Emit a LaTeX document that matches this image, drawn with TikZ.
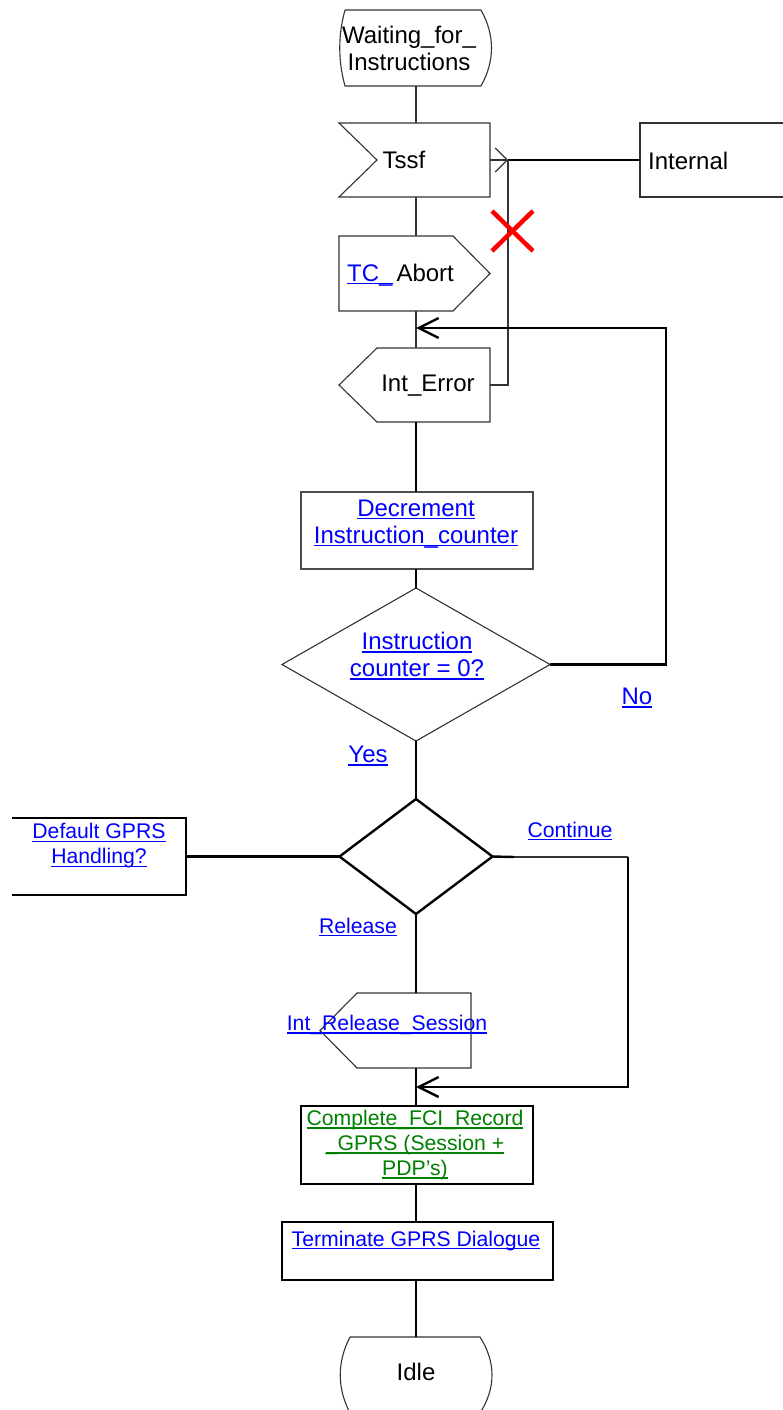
\documentclass[tikz,border=0pt]{standalone}
\usepackage{fontspec}
\setmainfont{Liberation Sans}
\usetikzlibrary{calc,arrows.meta}
\definecolor{linkblue}{RGB}{0,0,255}
\definecolor{linkgreen}{RGB}{0,128,0}
\definecolor{crossred}{RGB}{255,0,0}
\newcommand{\bigtxt}{\fontsize{24}{27}\selectfont}
\newcommand{\smalltxt}{\fontsize{21.2}{25}\selectfont}
% underline at a fixed depth below the baseline
\newcommand{\ulfix}[1]{\leavevmode\setbox0\hbox{#1}\rlap{\rule[-3pt]{\wd0}{1.4pt}}\box0}
\newcommand{\lnk}[1]{\textcolor{linkblue}{\ulfix{#1}}}
\newcommand{\glnk}[1]{\textcolor{linkgreen}{\ulfix{#1}}}

\begin{document}
\begin{tikzpicture}[x=1pt,y=-1pt,
  thinln/.style={line width=1.1pt, draw=black!80},
  thickln/.style={line width=2.4pt, draw=black},
  frame/.style={draw=none, inner sep=0pt, outer sep=0pt, rectangle},
  txt/.style={inner sep=0pt, align=center, font=\bigtxt},
  stxt/.style={inner sep=0pt, align=center, font=\smalltxt},
  bigbarb/.style={-{Straight Barb[length=20pt,width=20pt]}},
  smallbarb/.style={-{Straight Barb[length=12pt,width=24pt]}}]

\fill[white] (0,0) rectangle (783,1410);
\path[use as bounding box, clip] (0,0) rectangle (783,1410);

% main vertical flow axis
\coordinate (axis) at (416,0);

% ---------- shape frames ----------
\node[frame, minimum width=136pt, minimum height=76pt] (wait) at (413,48) {};
\node[frame, minimum width=151pt, minimum height=74pt] (tssf) at (414.5,160) {};
\node[frame, minimum width=144pt, minimum height=74pt] (internal) at (712,160) {};
\node[frame, minimum width=151pt, minimum height=75pt] (tcab) at (414.5,273.5) {};
\node[frame, minimum width=151pt, minimum height=74pt] (interr) at (414.5,385) {};
\node[frame, minimum width=232pt, minimum height=77pt] (dec) at (417,530.5) {};
\node[frame, minimum width=268pt, minimum height=153pt] (dia1) at (416,664.5) {};
\node[frame, minimum width=153pt, minimum height=115pt] (dia2) at (416,856.5) {};
\node[frame, minimum width=174pt, minimum height=77pt] (dflt) at (99,856.5) {};
\node[frame, minimum width=151pt, minimum height=75pt] (relsess) at (395.5,1030.5) {};
\node[frame, minimum width=232pt, minimum height=78pt] (complete) at (417,1145) {};
\node[frame, minimum width=271pt, minimum height=58pt] (term) at (417.5,1251) {};
\node[frame, minimum width=130pt, minimum height=76pt] (idle) at (415,1375) {};

% ---------- outlines ----------
% state: Waiting_for_Instructions
\draw[thinln] (wait.north west) -- (wait.north east)
  .. controls +(14,25) and +(14,-25) .. (wait.south east)
  -- (wait.south west)
  .. controls +(-7,-25) and +(-7,25) .. (wait.north west);
% input signal Tssf
\draw[thinln] (tssf.north west) -- (tssf.north east) -- (tssf.south east)
  -- (tssf.south west) -- ($(tssf.west)+(38,0)$) -- cycle;
% Internal process box (open on the right)
\draw[thinln] (internal.north east) -- (internal.north west)
  -- (internal.south west) -- (internal.south east);
% output signal TC_Abort
\draw[thinln] (tcab.north west) -- ($(tcab.north east)+(-37,0)$) -- (tcab.east)
  -- ($(tcab.south east)+(-37,0)$) -- (tcab.south west) -- cycle;
% input signal Int_Error
\draw[thinln] ($(interr.north west)+(38,0)$) -- (interr.north east)
  -- (interr.south east) -- ($(interr.south west)+(38,0)$) -- (interr.west) -- cycle;
% task Decrement
\draw[thinln, draw=black!70] (dec.north west) rectangle (dec.south east);
% decision Instruction counter
\draw[thinln] (dia1.north) -- (dia1.east) -- (dia1.south) -- (dia1.west) -- cycle;
% decision Continue / Release
\draw[thickln] (dia2.north) -- (dia2.east) -- (dia2.south) -- (dia2.west) -- cycle;
% Default GPRS box (open on the left)
\draw[thickln] (dflt.north west) -- (dflt.north east) -- (dflt.south east) -- (dflt.south west);
% signal Int_Release_Session
\draw[thinln] ($(relsess.north west)+(37,0)$) -- (relsess.north east)
  -- (relsess.south east) -- ($(relsess.south west)+(37,0)$) -- (relsess.west) -- cycle;
% tasks
\draw[thickln] (complete.north west) rectangle (complete.south east);
\draw[thickln] (term.north west) rectangle (term.south east);
% state: Idle
\draw[thinln] (idle.north west) -- (idle.north east)
  .. controls +(16,25) and +(16,-25) .. (idle.south east)
  -- (idle.south west)
  .. controls +(-13,-25) and +(-13,25) .. (idle.north west);

% ---------- texts ----------
\node[txt] (waittxt) at (409,48) {Waiting\_for\_\\Instructions};
\node[txt] (tssftxt) at (404,160) {Tssf};
\node[txt, anchor=west] (inttxt) at (648,161) {Internal};
\node[txt, anchor=west] (tcabtxt) at (347,275) {\lnk{TC\_}\,Abort};
\node[txt] (interrtxt) at (428,386) {Int\_Error};
\node[txt] (dectxt) at (416,524) {\lnk{Decrement}\\\lnk{Instruction\_counter}};
\node[txt] (dia1txt) at (417,656) {\lnk{Instruction}\\\lnk{counter = 0?}};
\node[txt] (notxt) at (637,698) {\lnk{No}};
\node[txt] (yestxt) at (368,756) {\lnk{Yes}};
\node[stxt] (dflttxt) at (99,846) {\lnk{Default GPRS}\\\lnk{Handling?}};
\node[stxt] (conttxt) at (570,831) {\lnk{Continue}};
\node[stxt] (reltxt) at (358,927) {\lnk{Release}};
\node[stxt] (relsesstxt) at (387,1025) {\lnk{Int\_Release\_Session}};
\node[stxt] (completetxt) at (415,1145) {\glnk{Complete\_FCI\_Record}\\\glnk{\_GPRS (Session +}\\\glnk{PDP’s)}};
\node[stxt] (termtxt) at (416,1241) {\lnk{Terminate GPRS Dialogue}};
\node[txt] (idletxt) at (416,1372) {Idle};

% ---------- connectors ----------
\coordinate (junc) at (508,160);
\coordinate (loopin) at (416,328);
\coordinate (loopc) at (666,328);
\coordinate (contA) at (514,857);
\coordinate (contB) at (628,857);
\coordinate (contin) at (416,1087);

\draw[thinln] (wait.south -| axis) -- (tssf.north -| axis);
\draw[thinln] (tssf.south -| axis) -- (tcab.north -| axis);
\draw[thinln] (tcab.south -| axis) -- (interr.north -| axis);
\draw[thinln, smallbarb] (tssf.east) -- (junc);
\draw[thickln] (internal.west) -- (junc);
\draw[thinln] (interr.east) -| (junc);
\draw[thickln] (interr.south -| axis) -- (dec.north -| axis);
\draw[thickln] (dec.south -| axis) -- (dia1.north);
\draw[thickln, bigbarb] (dia1.east) -| (loopc) -- (loopin);
\draw[thickln] (dia1.south) -- (dia2.north);
\draw[thickln] (dia2.west) -- (dflt.east);
\draw[thickln] (dia2.east) -- (contA);
\draw[thinln] (contA) -- (contB);
\draw[thickln, bigbarb] (contB) |- (contin);
\draw[thickln] (dia2.south) -- (relsess.north -| dia2.south);
\draw[thickln] (relsess.south -| axis) -- (complete.north -| axis);
\draw[thickln] (complete.south -| axis) -- (term.north -| axis);
\draw[thickln] (term.south -| axis) -- (idle.north -| axis);

% cancellation mark on the Int_Error feedback line
\draw[crossred, line width=4.5pt] (492,211) -- (533,251) (492,251) -- (533,211);

\end{tikzpicture}
\end{document}
